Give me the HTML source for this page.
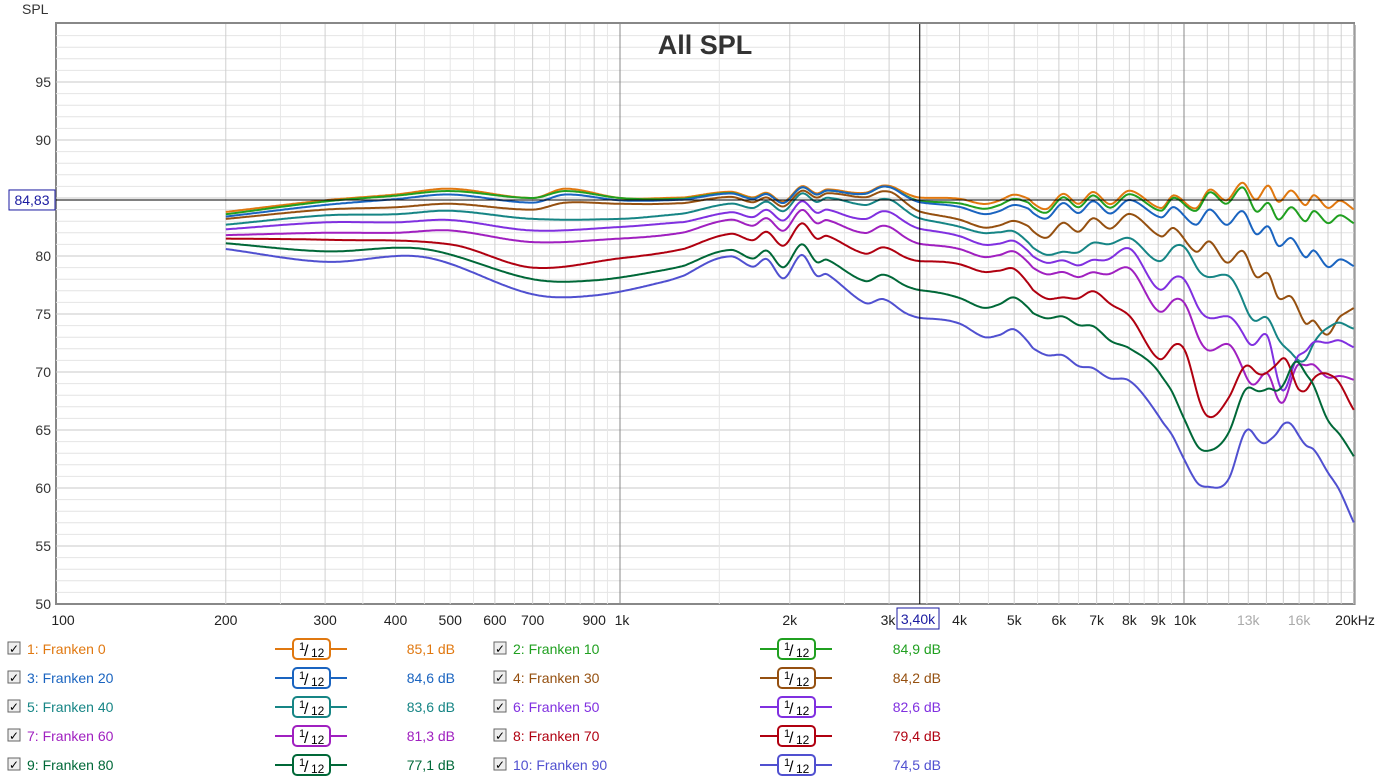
<!DOCTYPE html>
<html><head><meta charset="utf-8"><style>
body{margin:0;background:#fff;width:1380px;height:782px;overflow:hidden;font-family:"Liberation Sans",Arial,sans-serif}
svg{position:absolute;left:0;top:0}
</style></head><body>
<svg id="s" width="1380" height="782" xmlns="http://www.w3.org/2000/svg" font-family="Liberation Sans, Arial, sans-serif"></svg>
<script>
const S=document.getElementById('s');let h='';
const X0=56,DEC=564,Y0=24,PD=11.6,XR=1354,YB=604;
const fx=f=>620+DEC*Math.log10(f/1000);
const dy=d=>Y0+(100-d)*PD;
h+=`<rect x="${X0+2}" y="${Y0+1}" width="${XR-X0}" height="${YB-Y0}" fill="#bbb"/>`;
h+=`<rect x="${X0}" y="${Y0-1}" width="${XR-X0}" height="${YB-Y0+1}" fill="#fff" stroke="#888" stroke-width="2"/>`;
for(let d=51;d<100;d++){h+=`<line x1="${X0}" x2="${XR}" y1="${dy(d)}" y2="${dy(d)}" stroke="${d%5?'#e4e4e4':'#c8c8c8'}"/>`}
let fs=[];for(let f=200;f<1000;f+=100)fs.push(f);for(let f=2000;f<10000;f+=1000)fs.push(f);
for(let f=1500;f<10000;f+=1000)fs.push(f);
for(let f=11000;f<=20000;f+=1000)fs.push(f);
for(let f=250;f<1000;f+=100)fs.push(f);
fs.forEach(f=>{const x=fx(f);h+=`<line x1="${x}" x2="${x}" y1="${Y0}" y2="${YB}" stroke="${(f%100==50||f%1000==500)?'#e6e6e6':'#d0d0d0'}"/>`});
[1000,10000].forEach(f=>{const x=fx(f);h+=`<line x1="${x}" x2="${x}" y1="${Y0}" y2="${YB}" stroke="#888"/>`});
for(let d=50;d<=95;d+=5)h+=`<text x="51" y="${dy(d)+5}" font-size="14" text-anchor="end" fill="#333">${d}</text>`;
h+=`<text x="22" y="14" font-size="14" fill="#333">SPL</text>`;
const lab=[[100,'100'],[200,'200'],[300,'300'],[400,'400'],[500,'500'],[600,'600'],[700,'700'],[900,'900'],[1000,'1k'],[2000,'2k'],[3000,'3k'],[4000,'4k'],[5000,'5k'],[6000,'6k'],[7000,'7k'],[8000,'8k'],[9000,'9k'],[10000,'10k']];
lab.forEach(([f,t])=>{let x=fx(f);if(f==100)x=63;if(f==1000)x=622;if(f==3000)x=888;if(f==10000)x=1185;h+=`<text x="${x}" y="625" font-size="14" text-anchor="middle" fill="#222">${t}</text>`});
h+=`<text x="${fx(13000)}" y="625" font-size="14" text-anchor="middle" fill="#aaa">13k</text><text x="${fx(16000)}" y="625" font-size="14" text-anchor="middle" fill="#aaa">16k</text><text x="1355" y="625" font-size="14" text-anchor="middle" fill="#222">20kHz</text>`;
h+=`<text x="705" y="54" font-size="27" font-weight="bold" text-anchor="middle" fill="#333">All SPL</text>`;

function interp(p,lf){
  const n=p.length;if(lf<=p[0][0])return p[0][1];if(lf>=p[n-1][0])return p[n-1][1];
  let i=0;while(p[i+1][0]<lf)i++;
  const t=k=>{const a=p[Math.max(0,k-1)],c=p[Math.min(n-1,k+1)];return (c[1]-a[1])/(c[0]-a[0]);};
  const x0=p[i][0],x1=p[i+1][0],H=x1-x0,s=(lf-x0)/H;
  const m0=t(i)*H,m1=t(i+1)*H,s2=s*s,s3=s2*s;
  return (2*s3-3*s2+1)*p[i][1]+(s3-2*s2+s)*m0+(-2*s3+3*s2)*p[i+1][1]+(s3-s2)*m1;
}
const L10=a=>a.map(([f,d])=>[Math.log10(f),d]);
const R=L10([[1300,0],[1570,0.5],[1720,-0.3],[1820,0.2],[1950,-1.0],[2100,0.8],[2230,-0.2],[2330,0.2],[2720,-0.6],[2930,0.2],[3200,0],[3600,0.1],[4000,-0.1],[4400,-0.4],[4700,0.1],[5000,0.8],[5400,0]]);
const RH=L10([[5300,0],[5700,-0.9],[6100,0.5],[6500,-0.5],[6900,0.6],[7400,-0.6],[8000,0.7],[9100,-0.7],[9600,0.6],[10500,-0.8],[11100,0.7],[11900,-0.7],[12700,0.8],[13400,-0.8],[14100,0.7],[14700,-0.7],[15500,0.6],[16400,-0.6],[17000,0.5],[18000,-0.5],[18900,0.4],[20000,-0.2]]);
const C=[
['#e07810',0.7,0.9,[[200,83.8],[300,84.8],[400,85.3],[500,85.8],[700,85.0],[800,85.8],[1000,85.0],[1200,85],[2000,85.4],[2500,85.7],[3000,85.9],[3400,85.0],[4000,85.0],[4600,84.7],[6000,84.9],[8000,85],[10000,84.7],[12700,85.6],[16000,85],[20000,84.2]]],
['#20a020',0.7,0.9,[[200,83.6],[300,84.7],[400,85.2],[500,85.6],[700,85.0],[800,85.6],[1000,85.0],[1200,84.9],[2000,85.3],[2500,85.6],[3000,85.8],[3400,84.7],[4000,84.6],[4600,84.3],[6000,84.6],[8000,84.7],[10000,84.5],[12700,85.2],[14000,84],[16000,83.6],[20000,83]]],
['#1a64c0',0.7,0.9,[[200,83.4],[300,84.4],[400,84.9],[500,85.3],[700,84.6],[800,85.3],[1000,84.8],[1200,84.8],[2000,85.3],[2500,85.6],[3000,85.8],[3400,84.6],[4000,84.3],[4600,83.8],[6000,84.1],[8000,84.2],[9000,84],[10000,83.5],[12000,83.3],[13000,83],[14000,82],[16000,80.7],[18000,79.5],[20000,79.3]]],
['#955010',0.7,0.9,[[200,83.2],[300,84],[400,84.2],[500,84.5],[700,84],[800,84.6],[1000,84.5],[1200,84.5],[2000,85],[3000,85.4],[3400,83.8],[4000,83.2],[4600,82.6],[6000,82.4],[8000,83],[9000,82.4],[10000,81.5],[12000,80],[13000,79.5],[14000,78],[16000,75.3],[17500,73.6],[19000,74.5],[20000,75.7]]],
['#168585',0.8,0.35,[[200,82.7],[300,83.5],[400,83.6],[500,83.9],[700,83.2],[1000,83.2],[1200,83.5],[1500,84],[2000,84.7],[3000,84.7],[3400,83.2],[4000,82.6],[4600,82.1],[6000,80.2],[7000,81],[8000,81.3],[9000,79.8],[10000,80.8],[11000,78],[12000,78.5],[13000,75],[14000,74.5],[16000,71],[18000,74],[20000,73.8]]],
['#8030e0',0.9,0.35,[[200,82.3],[300,82.9],[400,82.9],[500,83.1],[700,82.2],[1000,82.5],[1200,82.8],[1500,83.2],[2000,84],[2500,83.7],[3000,83.6],[3400,82.3],[4000,81.8],[4600,81.1],[6000,79.5],[7000,79.5],[8000,80.4],[9000,77.4],[10000,78],[11000,74.5],[12000,75],[13000,72.5],[14000,73],[15000,68.5],[16000,71.5],[18000,72.7],[20000,72.2]]],
['#a020c0',1.0,0.35,[[200,81.8],[300,82],[400,82],[500,82.2],[700,81.2],[1000,81.5],[1200,81.8],[1500,82.5],[2000,83.2],[2500,82.7],[3000,82.3],[3400,81],[4000,80.7],[4600,80.1],[6000,78.5],[7000,78.4],[8000,78.7],[9000,75.5],[10000,76],[11000,71.7],[12000,72.6],[13000,69.2],[14000,69.7],[15000,67.5],[16000,70.7],[18000,69.7],[20000,69.4]]],
['#b00010',1.1,0.35,[[200,81.5],[300,81.4],[500,81],[700,79],[1000,79.8],[1200,80.3],[1500,81.2],[2000,82],[2500,81.2],[3000,80.4],[3400,79.5],[4000,79.4],[4600,78.8],[6000,76.3],[7000,76.7],[8000,74.6],[9000,71.4],[10000,72],[11000,66],[12000,68],[13000,70.5],[14000,69.7],[15000,71.3],[16000,68.5],[18000,70],[20000,66.8]]],
['#006838',1.2,0.35,[[200,81.1],[300,80.4],[450,80.6],[700,78],[900,77.9],[1200,78.8],[1500,79.8],[2000,80.2],[2500,79],[3000,78],[3400,77],[4000,76.5],[4600,75.8],[6000,74.7],[7000,73.6],[8000,71.8],[9000,70.3],[10000,66],[11000,63],[12000,65],[13000,68.6],[14000,68.3],[15000,69],[16000,70.8],[18000,66],[20000,62.8]]],
['#5050d0',1.3,0.35,[[200,80.6],[300,79.5],[450,79.9],[700,76.7],[900,76.6],[1200,77.8],[1500,79.2],[2000,79.3],[2500,77.5],[3000,75.8],[3400,74.6],[4000,74.3],[4600,73.2],[6000,71.4],[7000,70],[8000,69],[9000,66.5],[10000,62.5],[11000,59.9],[12000,61],[13000,65],[14000,63.7],[15000,65.6],[16000,64.5],[18000,61.5],[20000,57.1]]]];
C.forEach(([col,aM,aH,p])=>{const b=L10(p);let s='';
for(let x=fx(200);x<=XR+0.01;x+=1.5){const lf=3+(x-620)/DEC;const v=interp(b,lf)+aM*interp(R,lf)+aH*interp(RH,lf);s+=(s?' L':'M')+x.toFixed(1)+','+dy(v).toFixed(1)}
h+=`<path d="${s}" fill="none" stroke="${col}" stroke-width="2" stroke-linejoin="round"/>`});
const cx=fx(3400),cy=dy(84.83);
h+=`<line x1="${cx}" x2="${cx}" y1="${Y0}" y2="${YB}" stroke="#000"/><line x1="${X0}" x2="${XR}" y1="${cy}" y2="${cy}" stroke="#000"/>`;
h+=`<rect x="9" y="${cy-10}" width="46" height="20" fill="#fff" stroke="#1a1aa0"/><text x="32" y="${cy+5}" font-size="14" text-anchor="middle" fill="#1a1aa0">84,83</text>`;
h+=`<rect x="897" y="608" width="42" height="21" fill="#fff" stroke="#1a1aa0"/><text x="918" y="624" font-size="14" text-anchor="middle" fill="#1a1aa0">3,40k</text>`;
const L=[['1: Franken 0','85,1 dB'],['2: Franken 10','84,9 dB'],['3: Franken 20','84,6 dB'],['4: Franken 30','84,2 dB'],['5: Franken 40','83,6 dB'],['6: Franken 50','82,6 dB'],['7: Franken 60','81,3 dB'],['8: Franken 70','79,4 dB'],['9: Franken 80','77,1 dB'],['10: Franken 90','74,5 dB']];
L.forEach(([t,v],i)=>{const col=C[i][0],r=Math.floor(i/2),c=i%2,y=649+r*29,bx=c?494:8,lx=c?760:275,vx=c?941:455;
h+=`<rect x="${bx}" y="${y-7}" width="12" height="12" fill="#eee" stroke="#666"/><text x="${bx+6}" y="${y+4}" font-size="12" text-anchor="middle" fill="#000">✓</text>`;
h+=`<text x="${bx+19}" y="${y+5}" font-size="14" fill="${col}">${t}</text>`;
h+=`<line x1="${lx}" x2="${lx+72}" y1="${y}" y2="${y}" stroke="${col}" stroke-width="2"/><rect x="${lx+18}" y="${y-10}" width="37" height="20" rx="4" fill="#fff" stroke="${col}" stroke-width="2"/>`;
h+=`<text x="${lx+24}" y="${y+1}" font-size="11" fill="#000">1</text><text x="${lx+29}" y="${y+7}" font-size="16" fill="#000">/</text><text x="${lx+36}" y="${y+8}" font-size="12" fill="#000">12</text>`;
h+=`<text x="${vx}" y="${y+5}" font-size="14" text-anchor="end" fill="${col}">${v}</text>`});
S.innerHTML=h;
</script>
</body></html>
